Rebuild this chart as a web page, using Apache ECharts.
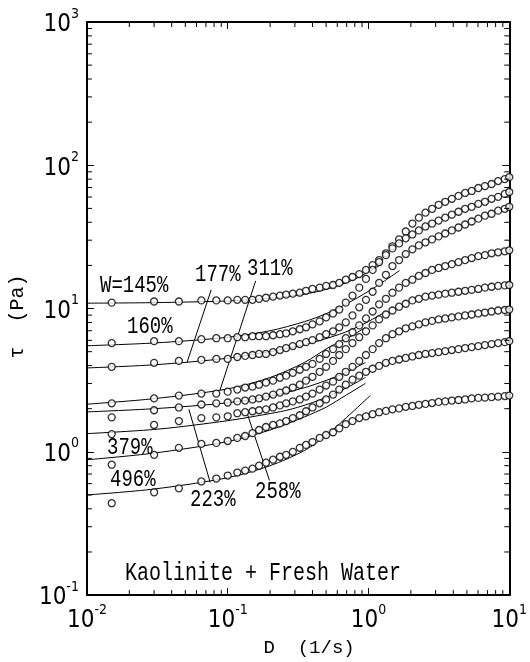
<!DOCTYPE html>
<html>
<head>
<meta charset="utf-8">
<script src="https://cdn.jsdelivr.net/npm/echarts@6/dist/echarts.min.js"></script>
<style>
  html, body { margin: 0; padding: 0; background: #fff; }
  #chart { width: 530px; height: 662px; }
</style>
</head>
<body>
<div id="chart"></div>
<script>
// Shear rates D (1/s) at which every flow curve was measured
const shearRate = [0.015, 0.03, 0.045, 0.065, 0.083, 0.1, 0.117, 0.133, 0.15, 0.167, 0.187, 0.21, 0.235, 0.26, 0.29, 0.325, 0.36, 0.4, 0.45, 0.5, 0.56, 0.62, 0.69, 0.77, 0.86, 0.96, 1.07, 1.19, 1.33, 1.48, 1.65, 1.84, 2.05, 2.28, 2.54, 2.83, 3.15, 3.51, 3.91, 4.36, 4.86, 5.41, 6.03, 6.72, 7.49, 8.34, 9.29, 10];

// Measured shear stress tau (Pa), one array per water content W
const tauW145 = [11.0, 11.2, 11.2, 11.4, 11.4, 11.4, 11.5, 11.5, 11.5, 11.7, 11.9, 12.1, 12.3, 12.5, 12.7, 12.9, 13.3, 13.7, 14.0, 14.4, 14.6, 15.1, 15.9, 16.6, 17.4, 18.6, 20.1, 21.8, 24.3, 27.2, 30.4, 34.5, 39.2, 43.1, 46.7, 49.7, 53.0, 55.6, 58.3, 61.1, 64.1, 66.2, 69.4, 71.6, 74.0, 77.6, 80.1, 82.6];
const tauW160 = [5.74, 5.92, 5.92, 6.11, 6.21, 6.21, 6.31, 6.31, 6.41, 6.41, 6.41, 6.51, 6.62, 6.72, 6.94, 7.17, 7.40, 7.76, 8.14, 8.67, 9.24, 9.84, 11.0, 12.3, 14.0, 16.1, 18.6, 21.1, 23.6, 26.3, 28.5, 30.9, 32.9, 35.1, 37.4, 39.2, 41.1, 43.1, 45.2, 47.4, 49.7, 51.3, 53.8, 55.6, 58.3, 60.2, 63.1, 65.1];
const tauW177 = [3.92, 4.18, 4.31, 4.38, 4.45, 4.45, 4.59, 4.67, 4.74, 4.82, 4.82, 4.97, 5.13, 5.30, 5.47, 5.65, 5.83, 6.02, 6.31, 6.62, 6.94, 7.40, 8.01, 8.95, 10.2, 11.5, 13.1, 15.1, 17.2, 19.8, 21.8, 24.0, 25.9, 27.6, 29.0, 30.4, 31.9, 33.4, 35.1, 36.8, 38.6, 40.5, 42.4, 44.5, 45.9, 48.2, 49.7, 51.3];
const tauW311 = [2.18, 2.36, 2.47, 2.55, 2.55, 2.63, 2.72, 2.81, 2.85, 2.94, 3.04, 3.14, 3.29, 3.40, 3.56, 3.74, 3.92, 4.11, 4.45, 4.82, 5.21, 5.65, 6.21, 6.83, 7.63, 8.53, 9.54, 10.7, 11.7, 12.9, 14.0, 15.1, 15.9, 16.9, 17.7, 18.6, 19.2, 19.8, 20.4, 21.1, 21.8, 22.5, 23.2, 23.6, 24.3, 24.7, 25.1, 25.5];
const tauW223 = [1.74, 1.95, 2.04, 2.14, 2.18, 2.21, 2.25, 2.28, 2.32, 2.36, 2.43, 2.51, 2.59, 2.68, 2.81, 2.94, 3.14, 3.34, 3.62, 3.92, 4.31, 4.74, 5.21, 5.74, 6.31, 6.94, 7.63, 8.40, 9.09, 9.69, 10.3, 10.8, 11.4, 11.7, 12.1, 12.3, 12.5, 12.7, 12.9, 13.1, 13.3, 13.5, 13.7, 14.0, 14.2, 14.4, 14.5, 14.6];
const tauW258 = [1.33, 1.54, 1.64, 1.72, 1.74, 1.77, 1.86, 1.89, 1.92, 1.95, 1.98, 2.04, 2.11, 2.18, 2.25, 2.32, 2.43, 2.55, 2.72, 2.90, 3.09, 3.34, 3.62, 3.92, 4.31, 4.74, 5.21, 5.74, 6.21, 6.62, 6.94, 7.28, 7.51, 7.76, 8.01, 8.20, 8.40, 8.53, 8.67, 8.81, 8.95, 9.09, 9.24, 9.38, 9.54, 9.69, 9.77, 9.84];
const tauW379 = [0.813, 0.953, 1.066, 1.136, 1.154, 1.19, 1.25, 1.29, 1.35, 1.42, 1.49, 1.54, 1.58, 1.64, 1.72, 1.80, 1.92, 2.04, 2.18, 2.32, 2.51, 2.72, 2.94, 3.19, 3.40, 3.62, 3.80, 3.98, 4.18, 4.31, 4.41, 4.52, 4.63, 4.74, 4.82, 4.89, 4.97, 5.05, 5.13, 5.21, 5.30, 5.38, 5.47, 5.56, 5.65, 5.74, 5.83, 5.92];
const tauW496 = [0.438, 0.522, 0.556, 0.621, 0.651, 0.683, 0.717, 0.740, 0.763, 0.800, 0.840, 0.881, 0.924, 0.953, 1.00, 1.066, 1.117, 1.17, 1.25, 1.31, 1.37, 1.46, 1.56, 1.64, 1.72, 1.77, 1.83, 1.89, 1.93, 1.98, 2.01, 2.06, 2.09, 2.13, 2.16, 2.19, 2.23, 2.25, 2.28, 2.30, 2.32, 2.36, 2.38, 2.39, 2.41, 2.43, 2.45, 2.47];

// Fitted model curves, [D, tau] pairs
const fitW145 = [[0.01, 10.9], [0.03, 11.0], [0.1, 11.3], [0.2, 11.8], [0.35, 12.6], [0.5, 13.6], [0.7, 15.2], [0.9, 17.0], [1.23, 20.3]];
const fitW160 = [[0.01, 5.5], [0.03, 5.75], [0.1, 6.3], [0.2, 7.0], [0.35, 8.1], [0.5, 9.2], [0.7, 10.8], [1.0, 13.2], [1.3, 15.6], [1.66, 18.4]];
const fitW177 = [[0.01, 3.85], [0.03, 4.05], [0.1, 4.5], [0.2, 5.0], [0.35, 5.6], [0.62, 6.6], [0.9, 7.7], [1.3, 9.4]];
const fitW311 = [[0.01, 2.15], [0.03, 2.35], [0.1, 2.75], [0.2, 3.3], [0.35, 4.2], [0.53, 5.4], [0.75, 6.4], [0.95, 7.4]];
const fitW223 = [[0.01, 1.9], [0.03, 2.0], [0.1, 2.2], [0.2, 2.45], [0.35, 2.8], [0.5, 3.15], [0.7, 3.6], [0.95, 4.2]];
const fitW258 = [[0.01, 1.34], [0.032, 1.44], [0.1, 1.65], [0.2, 1.85], [0.28, 1.98], [0.45, 2.3], [0.7, 2.8], [0.95, 3.3]];
const fitW379 = [[0.01, 0.88], [0.03, 0.98], [0.1, 1.18], [0.2, 1.42], [0.35, 1.75], [0.5, 2.05], [0.7, 2.5], [0.95, 3.0]];
const fitW496 = [[0.01, 0.5], [0.03, 0.55], [0.1, 0.66], [0.2, 0.8], [0.35, 1.02], [0.5, 1.3], [0.7, 1.74], [1.03, 2.47]];

// Leader lines tying a W label to its curve, [D, tau] end points
const leader177 = [[0.0763, 13.5], [0.0513, 4.18]];
const leader311 = [[0.158, 15.6], [0.088, 2.68]];
const leader223 = [[0.0751, 0.611], [0.053, 1.98]];
const leader258 = [[0.198, 0.631], [0.1374, 1.86]];

// Axis ranges and minor tick values
const X_MIN = 0.01, X_MAX = 10;
const Y_MIN = 0.1, Y_MAX = 1000;
const xMinorTicks = [0.02, 0.03, 0.04, 0.05, 0.06, 0.07, 0.08, 0.09, 0.2, 0.3, 0.4, 0.5, 0.6, 0.7, 0.8, 0.9, 2, 3, 4, 5, 6, 7, 8, 9];
const yMinorTicks = [0.2, 0.3, 0.4, 0.5, 0.6, 0.7, 0.8, 0.9, 2, 3, 4, 5, 6, 7, 8, 9, 20, 30, 40, 50, 60, 70, 80, 90, 200, 300, 400, 500, 600, 700, 800, 900];

const AXIS_FONT = "'Liberation Sans Narrow', 'DejaVu Sans Condensed', 'Liberation Sans', sans-serif";
const TEXT_FONT = "'Liberation Mono', 'DejaVu Sans Mono', monospace";
const INK = '#000';
const MINOR_LEN = 5;

const powerLabel = {
  formatter: v => '{b|10}{s|' + Math.round(Math.log10(v)) + '}',
  rich: {
    b: { fontFamily: AXIS_FONT, fontSize: 24, lineHeight: 30, color: INK, verticalAlign: 'bottom' },
    s: { fontFamily: AXIS_FONT, fontSize: 14, lineHeight: 14, color: INK, verticalAlign: 'top' }
  }
};

function logAxis(extra) {
  return Object.assign({
    type: 'log', logBase: 10,
    axisLine: { show: true, lineStyle: { color: INK, width: 2 } },
    axisTick: { show: true, inside: true, length: 7, lineStyle: { color: INK, width: 1 } },
    splitLine: { show: false },
    minorTick: { show: false }
  }, extra);
}

function curveSeries(name, values) {
  return {
    name, type: 'scatter', z: 4,
    symbol: 'circle', symbolSize: 7,
    itemStyle: { color: '#fff', borderColor: INK, borderWidth: 1.3 },
    data: shearRate.map((d, i) => [d, values[i]])
  };
}

function lineSeries(name, points) {
  return {
    name, type: 'line', z: 3, smooth: 0.3, showSymbol: false, symbol: 'none',
    lineStyle: { color: INK, width: 1 },
    data: points
  };
}

function straightSeries(name, points) {
  return {
    name, type: 'line', z: 3, symbol: 'none',
    lineStyle: { color: INK, width: 1 },
    data: points
  };
}

const chart = echarts.init(document.getElementById('chart'), null, { renderer: 'canvas' });

function annotation(text, x, y, size) {
  return {
    type: 'text', x, y, scaleY: 1.3, originX: 0, originY: 0, z: 10,
    style: {
      text, x: 0, y: 0, fill: INK,
      font: (size || 19) + 'px ' + TEXT_FONT,
      textAlign: 'left', align: 'left',
      textVerticalAlign: 'bottom', verticalAlign: 'bottom'
    }
  };
}

chart.setOption({
  backgroundColor: '#fff',
  animation: false,
  grid: { left: 80, top: 22, width: 435, height: 579, containLabel: false },
  xAxis: [
    logAxis({
      min: X_MIN, max: X_MAX, position: 'bottom',
      axisLabel: Object.assign({ margin: 8, showMinLabel: true, showMaxLabel: true }, powerLabel),
      name: 'D  (1/s)', nameLocation: 'middle', nameGap: 40,
      nameTextStyle: { fontFamily: TEXT_FONT, fontSize: 19, color: INK, padding: [0, 0, 0, 22] }
    }),
    logAxis({ min: X_MIN, max: X_MAX, position: 'top', axisLabel: { show: false } })
  ],
  yAxis: [
    logAxis({
      min: Y_MIN, max: Y_MAX, position: 'left',
      axisLabel: Object.assign({ margin: 8, showMinLabel: true, showMaxLabel: true }, powerLabel),
      name: 'τ  (Pa)', nameLocation: 'middle', nameGap: 56,
      nameTextStyle: { fontFamily: TEXT_FONT, fontSize: 20, color: INK, padding: [0, 16, 0, 0] }
    }),
    logAxis({ min: Y_MIN, max: Y_MAX, position: 'right', axisLabel: { show: false } })
  ],
  series: [
    // minor log ticks on the bottom and top edges
    {
      type: 'custom', xAxisIndex: 0, yAxisIndex: 0, silent: true, clip: false, z: 6,
      data: xMinorTicks.map(v => [v, Y_MIN]),
      renderItem: (params, api) => {
        const lo = api.coord([api.value(0), Y_MIN]);
        const hi = api.coord([api.value(0), Y_MAX]);
        return {
          type: 'group', children: [
            { type: 'line', shape: { x1: lo[0], y1: lo[1], x2: lo[0], y2: lo[1] - MINOR_LEN }, style: { stroke: INK, lineWidth: 1 } },
            { type: 'line', shape: { x1: hi[0], y1: hi[1], x2: hi[0], y2: hi[1] + MINOR_LEN }, style: { stroke: INK, lineWidth: 1 } }
          ]
        };
      }
    },
    // minor log ticks on the left and right edges
    {
      type: 'custom', xAxisIndex: 0, yAxisIndex: 0, silent: true, clip: false, z: 6,
      data: yMinorTicks.map(v => [X_MIN, v]),
      renderItem: (params, api) => {
        const lo = api.coord([X_MIN, api.value(1)]);
        const hi = api.coord([X_MAX, api.value(1)]);
        return {
          type: 'group', children: [
            { type: 'line', shape: { x1: lo[0], y1: lo[1], x2: lo[0] + MINOR_LEN, y2: lo[1] }, style: { stroke: INK, lineWidth: 1 } },
            { type: 'line', shape: { x1: hi[0], y1: hi[1], x2: hi[0] - MINOR_LEN, y2: hi[1] }, style: { stroke: INK, lineWidth: 1 } }
          ]
        };
      }
    },
    lineSeries('fit 145', fitW145),
    lineSeries('fit 160', fitW160),
    lineSeries('fit 177', fitW177),
    lineSeries('fit 311', fitW311),
    lineSeries('fit 223', fitW223),
    lineSeries('fit 258', fitW258),
    lineSeries('fit 379', fitW379),
    lineSeries('fit 496', fitW496),
    straightSeries('leader 177', leader177),
    straightSeries('leader 311', leader311),
    straightSeries('leader 223', leader223),
    straightSeries('leader 258', leader258),
    curveSeries('W=145%', tauW145),
    curveSeries('W=160%', tauW160),
    curveSeries('W=177%', tauW177),
    curveSeries('W=311%', tauW311),
    curveSeries('W=223%', tauW223),
    curveSeries('W=258%', tauW258),
    curveSeries('W=379%', tauW379),
    curveSeries('W=496%', tauW496)
  ],
  graphic: [
    annotation('W=145%', 100, 298),
    annotation('160%', 127, 339),
    annotation('177%', 195, 287),
    annotation('311%', 247, 281),
    annotation('379%', 107, 460),
    annotation('496%', 110, 492),
    annotation('223%', 190, 512),
    annotation('258%', 255, 504),
    annotation('Kaolinite + Fresh Water', 125, 586, 20)
  ]
});
</script>
</body>
</html>
